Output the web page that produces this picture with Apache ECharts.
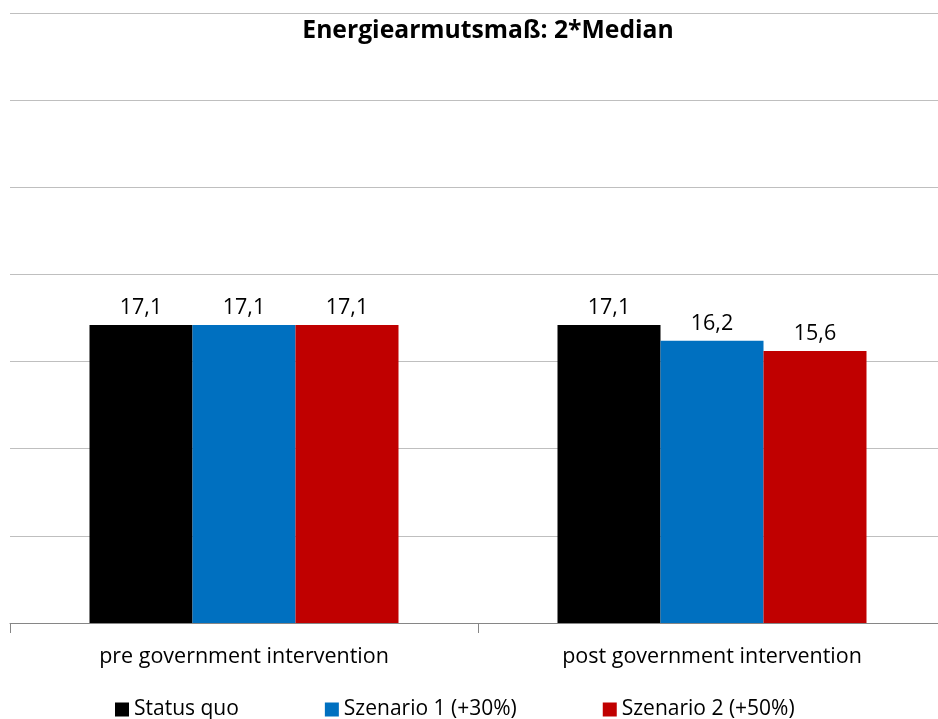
<!DOCTYPE html>
<html>
<head>
<meta charset="utf-8">
<script src="https://cdn.jsdelivr.net/npm/echarts@6/dist/echarts.min.js"></script>
<style>
  html, body { margin: 0; padding: 0; background: #fff; overflow: hidden; }
  #container { width: 946px; height: 719px; }
</style>
</head>
<body>
<div id="container"></div>
<script>
var categories = ['pre government intervention', 'post government intervention'];
var seriesNames = ['Status quo', 'Szenario 1 (+30%)', 'Szenario 2 (+50%)'];
var statusQuo = [17.1, 17.1];
var szenario1 = [17.1, 16.2];
var szenario2 = [17.1, 15.6];
var colors = ['#000000', '#0070C0', '#C00000'];

var font = 'Open Sans';

// chart runs a little past the right edge of the window, like the original
var dom = document.getElementById("container");
var myChart = echarts.init(dom);

function barSeries(name, data, color) {
    return {
        name: name,
        type: 'bar',
        data: data,
        barWidth: 103,
        barGap: '0%',
        itemStyle: { color: color },
        label: {
            show: true,
            position: 'top',
            distance: 6,
            color: '#000',
            fontFamily: font,
            fontSize: 21.5,
            formatter: function (p) {
                return p.value.toFixed(1).replace('.', ',');
            }
        }
    };
}

var option = {
    animation: false,
    color: colors,
    title: {
        text: 'Energiearmutsmaß: 2*Median',
        left: 483,
        textAlign: 'center',
        top: 13,
        textStyle: {
            fontFamily: font,
            fontWeight: 'bold',
            fontSize: 24.7,
            color: '#000'
        }
    },
    legend: {
        data: seriesNames,
        left: 110,
        top: 694,
        icon: 'rect',
        itemWidth: 14,
        itemHeight: 14,
        itemGap: 86,
        textStyle: {
            fontFamily: font,
            fontSize: 21,
            color: '#000'
        }
    },
    grid: {
        left: 10,
        top: 13,
        right: 0,
        height: 610,
        containLabel: false
    },
    xAxis: {
        type: 'category',
        data: categories,
        axisLine: { lineStyle: { color: '#868686', width: 1 } },
        axisTick: { show: true, length: 10, lineStyle: { color: '#868686' } },
        axisLabel: {
            margin: 23,
            fontFamily: font,
            fontSize: 21.5,
            color: '#000'
        }
    },
    yAxis: {
        type: 'value',
        min: 0,
        max: 35,
        interval: 5,
        axisLabel: { show: false },
        axisLine: { show: false },
        axisTick: { show: false },
        splitLine: { lineStyle: { color: '#BFBFBF', width: 1 } }
    },
    series: [
        barSeries(seriesNames[0], statusQuo, colors[0]),
        barSeries(seriesNames[1], szenario1, colors[1]),
        barSeries(seriesNames[2], szenario2, colors[2])
    ]
};

if (option && typeof option === "object") {
    myChart.setOption(option, true);
}
</script>
</body>
</html>
